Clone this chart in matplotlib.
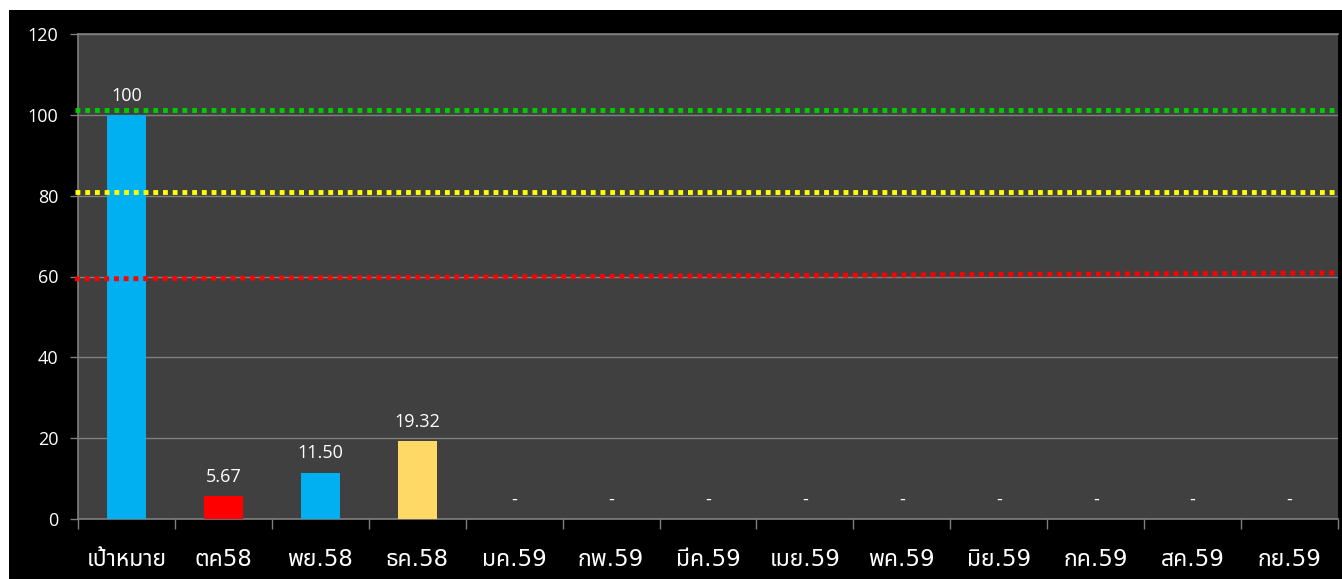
import matplotlib
matplotlib.use("Agg")
import matplotlib.pyplot as plt
from matplotlib import font_manager
from matplotlib.ft2font import FT2Font
from matplotlib.patches import Rectangle

categories = ["เป้าหมาย", "ตค58", "พย.58", "ธค.58", "มค.59", "กพ.59", "มีค.59",
              "เมย.59", "พค.59", "มิย.59", "กค.59", "สค.59", "กย.59"]
values = [100, 5.67, 11.50, 19.32, 0, 0, 0, 0, 0, 0, 0, 0, 0]
value_labels = ["100", "5.67", "11.50", "19.32", "-", "-", "-", "-", "-", "-", "-", "-", "-"]
bar_colors = ["#00B0F0", "#FF0000", "#00B0F0", "#FFD966"] + ["#00B0F0"] * 9
green_level = [101.2, 101.2]
yellow_level = [80.9, 80.9]
red_level = [59.4, 60.9]
yticks = [0, 20, 40, 60, 80, 100, 120]

# find a font with Thai glyphs
thai_font = None
found = []
for f in font_manager.fontManager.ttflist:
    try:
        cmap = FT2Font(f.fname).get_charmap()
        if 0x0E40 in cmap and 0x0E1B in cmap:
            found.append(f.name)
    except Exception:
        pass
for pref in ["Noto Sans Thai", "Noto Sans Thai Looped", "Loma", "Garuda", "Tlwg Typo", "Waree", "Sarabun"]:
    if pref in found:
        thai_font = pref
        break
if thai_font is None and found:
    thai_font = sorted(set(found))[0]
thai_family = ["DejaVu Sans"] + ([thai_font] if thai_font else [])

W, H = 1342, 579
fig = plt.figure(figsize=(W / 100, H / 100), dpi=100, facecolor="white")
bg = fig.add_axes([9 / W, 0, 1 - 9 / W, 1 - 10 / H], zorder=0)
bg.set_facecolor("black")
bg.set_axis_off()
bg.add_patch(Rectangle((0, 0), 1, 1, transform=bg.transAxes, facecolor="black", edgecolor="none"))

ax = fig.add_axes([78 / W, 1 - 519 / H, (1338 - 78) / W, (519 - 34) / H], zorder=1)
ax.set_facecolor("#404040")

x = list(range(len(categories)))
ax.bar(x, values, width=0.4, color=bar_colors, zorder=3)
for xi, v, lab in zip(x, values, value_labels):
    ax.text(xi, v + 2.5, lab, ha="center", va="bottom", color="white",
            fontsize=13, family=["Open Sans", "DejaVu Sans"], zorder=5)

xl = (-0.5, len(categories) - 0.5)
ax.plot([xl[0] - 0.03, xl[1]], green_level, color="#00CC00", lw=3.5, ls=(0, (1, 1)), zorder=4,
        clip_on=False)
ax.plot([xl[0] - 0.03, xl[1]], yellow_level, color="#FFFF00", lw=3.5, ls=(0, (1, 1)), zorder=4,
        clip_on=False)
ax.plot([xl[0] - 0.03, xl[1]], red_level, color="#FF0000", lw=3.5, ls=(0, (1, 1)), zorder=4,
        clip_on=False)

ax.set_xlim(*xl)
ax.set_ylim(0, 120)
ax.set_yticks(yticks)
ax.set_yticklabels([str(t) for t in yticks], color="white", fontsize=13,
                   family=["Open Sans", "DejaVu Sans"])
ax.yaxis.grid(True, color="#7F7F7F", lw=1, zorder=1)
ax.set_axisbelow(True)

ax.set_xticks([i - 0.5 for i in range(len(categories) + 1)])
ax.set_xticklabels([])
ax.set_xticks(x, minor=True)
ax.set_xticklabels(categories, minor=True, color="white", fontsize=16.5, family=thai_family)
ax.tick_params(axis="x", which="minor", length=0, pad=21)
ax.tick_params(axis="x", which="major", length=7, color="#7F7F7F", width=1)
ax.tick_params(axis="y", length=6, color="#7F7F7F", width=1, pad=8)

for s in ["left", "bottom", "top"]:
    ax.spines[s].set_color("#7F7F7F")
    ax.spines[s].set_linewidth(1.2)
ax.spines["right"].set_visible(False)

fig.savefig("out.png", dpi=100, facecolor="white")
